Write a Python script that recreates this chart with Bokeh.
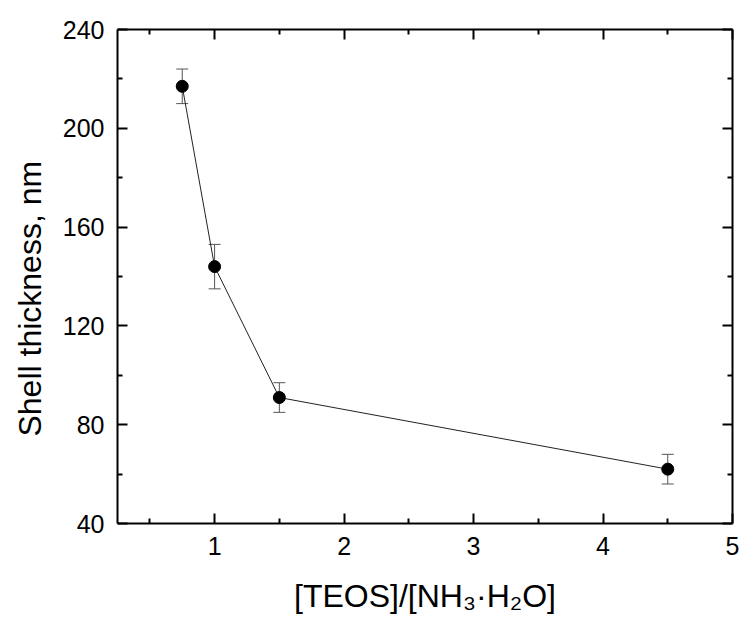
from bokeh.plotting import figure
from bokeh.models import LinearAxis, Range1d, Whisker, ColumnDataSource, FixedTicker, CustomJSTickFormatter
from bokeh.embed import file_html
from bokeh.resources import INLINE

ratio = [0.75, 1.0, 1.5, 4.5]
thickness = [217, 144, 91, 62]
err = [7, 9, 6, 6]
x_ticks = [1, 2, 3, 4, 5]
x_minor = [0.5, 1.5, 2.5, 3.5, 4.5]
y_ticks = [40, 80, 120, 160, 200, 240]
y_minor = [60, 100, 140, 180, 220]

FONT = "Liberation Sans"
NB = "\u00a0"

src = ColumnDataSource(dict(
    x=ratio, y=thickness,
    lo=[t - e for t, e in zip(thickness, err)],
    hi=[t + e for t, e in zip(thickness, err)],
))

p = figure(width=740, height=619, output_backend="svg", toolbar_location=None,
           x_range=Range1d(0.25, 5), y_range=Range1d(40, 240),
           min_border_left=117, min_border_right=8, min_border_top=29, min_border_bottom=96,
           x_axis_label="[TEOS]/[NH₃·H₂O]",
           y_axis_label="Shell thickness, nm" + NB * 5)
p.background_fill_color = "white"
p.border_fill_color = "white"
p.outline_line_color = None
p.xgrid.visible = False
p.ygrid.visible = False


def style(ax, ticks, minor, labels=True):
    ax.ticker = FixedTicker(ticks=ticks, minor_ticks=minor)
    ax.axis_line_width = 2
    ax.axis_line_color = "black"
    ax.major_tick_line_width = 2
    ax.major_tick_line_color = "black"
    ax.minor_tick_line_width = 2
    ax.minor_tick_line_color = "black"
    ax.major_tick_in = 10
    ax.major_tick_out = 0
    ax.minor_tick_in = 5
    ax.minor_tick_out = 0
    ax.major_label_text_font = FONT
    ax.major_label_text_color = "black"
    ax.axis_label_text_font = FONT
    ax.axis_label_text_font_style = "normal"
    ax.axis_label_text_font_size = "32px"
    ax.axis_label_text_color = "black"
    ax.major_label_text_font_size = "25px"
    if not labels:
        ax.formatter = CustomJSTickFormatter(code="return ''")
        ax.major_label_text_font_size = "2px"
        ax.major_label_standoff = 0


style(p.xaxis[0], x_ticks, x_minor)
style(p.yaxis[0], y_ticks, y_minor)
p.xaxis[0].major_label_standoff = 13
p.xaxis[0].axis_label_standoff = 20
p.yaxis[0].major_label_standoff = 13
p.yaxis[0].axis_label_standoff = 12

top = LinearAxis()
style(top, x_ticks, x_minor, labels=False)
p.add_layout(top, "above")
right = LinearAxis()
style(right, y_ticks, y_minor, labels=False)
p.add_layout(right, "right")

p.line("x", "y", source=src, line_color="#222222", line_width=1)
w = Whisker(base="x", lower="lo", upper="hi", source=src, dimension="height",
            line_color="#555555", line_width=1)
w.upper_head.size = 12
w.lower_head.size = 12
w.upper_head.line_color = "#555555"
w.lower_head.line_color = "#555555"
p.add_layout(w)
p.scatter("x", "y", source=src, size=12, fill_color="black", line_color="black")

open("out.html", "w").write(file_html(p, INLINE))
